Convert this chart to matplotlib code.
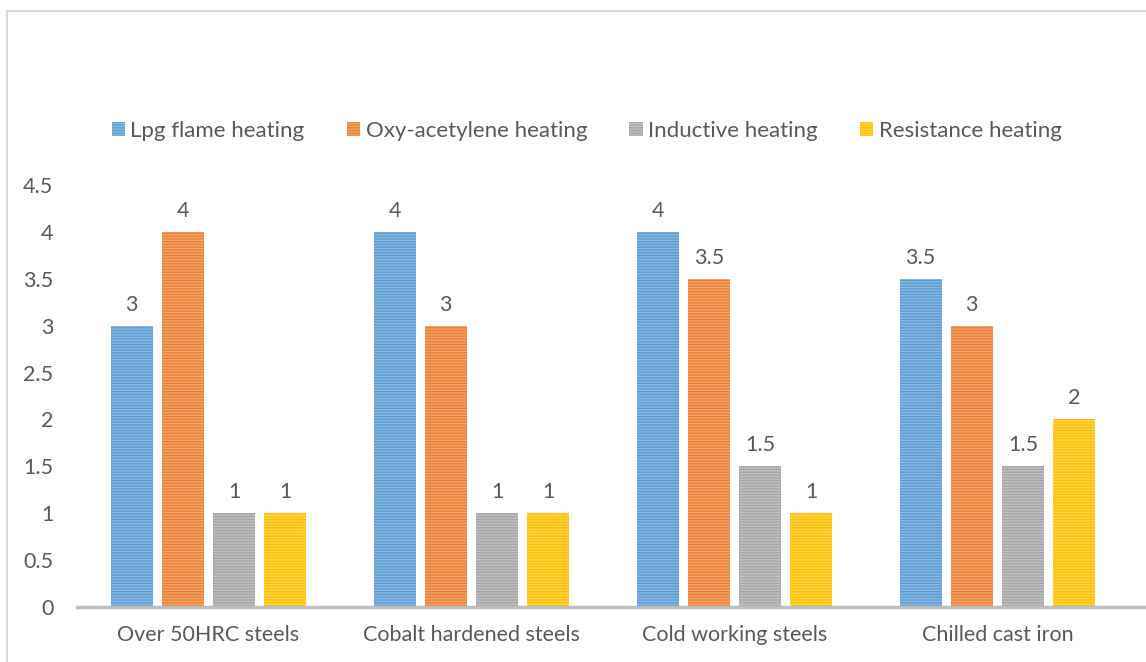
import numpy as np
import matplotlib.pyplot as plt
from matplotlib.patches import Rectangle, Patch
from matplotlib.colors import to_rgb

plt.rcParams['font.family'] = ['Lato', 'DejaVu Sans']
plt.rcParams['hatch.linewidth'] = 1.0

categories = ["Over 50HRC steels", "Cobalt hardened steels", "Cold working steels", "Chilled cast iron"]
series = ["Lpg flame heating", "Oxy-acetylene heating", "Inductive heating", "Resistance heating"]
lpg = [3, 4, 4, 3.5]
oxy = [4, 3, 3.5, 3]
inductive = [1, 1, 1.5, 1.5]
resistance = [1, 1, 1, 2]
values = [lpg, oxy, inductive, resistance]
colors = ["#5b9bd5", "#ed7d31", "#a5a5a5", "#ffc000"]

def lighter(c, f=0.3):
    r, g, b = to_rgb(c)
    return (r + (1 - r) * f, g + (1 - g) * f, b + (1 - b) * f)

fig = plt.figure(figsize=(11.46, 6.62), dpi=100)
W, H = 1146, 662
ax = fig.add_axes([77 / W, 55 / H, (W - 77) / W, 422 / H])

x = np.arange(len(categories))
pitch = 0.195
width = 0.16
text_col = "#595959"
fs = 15.5
for i, (vals, col) in enumerate(zip(values, colors)):
    pos = x + (i - 1.5) * pitch
    bars = ax.bar(pos, vals, width, color=col, edgecolor=lighter(col), hatch="------", linewidth=0)
    for b, v in zip(bars, vals):
        ax.annotate(f"{v:g}", (b.get_x() + b.get_width() / 2, v), xytext=(0, 8),
                    textcoords="offset points", ha="center", va="bottom",
                    fontsize=fs, color=text_col)

ax.set_xlim(-0.5, -0.5 + (W - 77) / 263)
ax.set_ylim(0, 4.5)
ax.set_yticks(np.arange(0, 4.51, 0.5))
ax.set_yticklabels([f"{t:g}" for t in np.arange(0, 4.51, 0.5)])
ax.set_xticks(x)
ax.set_xticklabels(categories)
ax.tick_params(axis="both", length=0, labelsize=fs, labelcolor=text_col)
ax.tick_params(axis="x", pad=13)
ax.tick_params(axis="y", pad=17)
for s in ["top", "right", "left"]:
    ax.spines[s].set_visible(False)
ax.spines["bottom"].set_color("#bfbfbf")
ax.spines["bottom"].set_linewidth(2.5)

handles = [Patch(facecolor=c, edgecolor=lighter(c), hatch="------", linewidth=0) for c in colors]
fig.legend(handles, series, loc="center", bbox_to_anchor=(0.512, 1 - 131 / H), ncol=4,
           frameon=False, fontsize=16, handlelength=0.6, handleheight=0.6,
           handletextpad=0.25, columnspacing=1.9, labelcolor=text_col)

fig.patches.append(Rectangle((7 / W, -0.1), 1.2, 1 - 11 / H + 0.1, transform=fig.transFigure,
                             fill=False, edgecolor="#d9d9d9", linewidth=1.5))

fig.savefig("out.png", dpi=100)
